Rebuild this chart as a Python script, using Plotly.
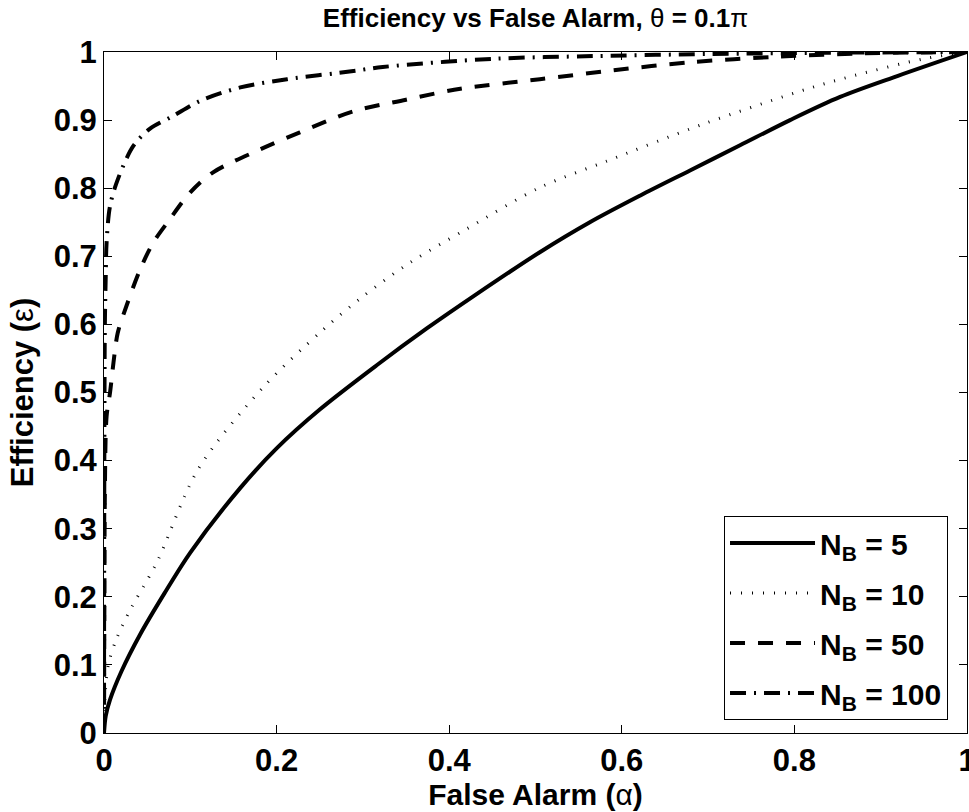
import plotly.graph_objects as go

# N_B = 5 (solid)
x_nb5 = [0, 0.002, 0.007, 0.02, 0.042, 0.07, 0.1, 0.158, 0.2, 0.25, 0.316, 0.374,
         0.43, 0.505, 0.563, 0.621, 0.679, 0.737, 0.795, 0.853, 0.92, 1.0]
y_nb5 = [0, 0.025, 0.049, 0.09, 0.145, 0.205, 0.265, 0.36, 0.418, 0.475, 0.54, 0.594,
         0.643, 0.706, 0.75, 0.789, 0.826, 0.863, 0.9, 0.934, 0.965, 1.0]

# N_B = 10 (dotted)
x_nb10 = [0, 0.001, 0.005, 0.015, 0.03, 0.061, 0.109, 0.184, 0.252, 0.299, 0.355,
          0.42, 0.505, 0.583, 0.694, 0.818, 0.868, 0.95, 1.0]
y_nb10 = [0, 0.05, 0.1, 0.14, 0.18, 0.25, 0.387, 0.507, 0.59, 0.64, 0.691,
          0.74, 0.801, 0.84, 0.894, 0.947, 0.965, 0.99, 1.0]

# N_B = 50 (dashed)
x_nb50 = [0, 0.0005, 0.001, 0.003, 0.007, 0.011, 0.016, 0.026, 0.042, 0.057, 0.076,
          0.1, 0.126, 0.181, 0.227, 0.289, 0.35, 0.413, 0.505, 0.583, 0.679, 0.78,
          0.88, 1.0]
y_nb50 = [0, 0.2, 0.35, 0.465, 0.5, 0.544, 0.588, 0.627, 0.681, 0.72, 0.754,
          0.794, 0.823, 0.857, 0.882, 0.913, 0.93, 0.946, 0.96, 0.972, 0.985, 0.993,
          0.998, 1.0]

# N_B = 100 (dash-dot)
x_nb100 = [0, 0.0002, 0.0005, 0.001, 0.002, 0.003, 0.007, 0.016, 0.034, 0.053, 0.08,
           0.111, 0.158, 0.212, 0.289, 0.323, 0.451, 0.567, 0.7, 0.85, 1.0]
y_nb100 = [0, 0.25, 0.45, 0.6, 0.67, 0.72, 0.774, 0.813, 0.862, 0.887, 0.906,
           0.928, 0.948, 0.96, 0.972, 0.978, 0.99, 0.994, 0.997, 0.999, 1.0]

series_names = ["<b>N<sub>B</sub> = 5</b>", "<b>N<sub>B</sub> = 10</b>",
                "<b>N<sub>B</sub> = 50</b>", "<b>N<sub>B</sub> = 100</b>"]

tick_vals_x = [0, 0.2, 0.4, 0.6, 0.8, 1]
tick_text_x = ["0", "0.2", "0.4", "0.6", "0.8", "1"]
tick_vals_y = [0, 0.1, 0.2, 0.3, 0.4, 0.5, 0.6, 0.7, 0.8, 0.9, 1]
tick_text_y = ["0", "0.1", "0.2", "0.3", "0.4", "0.5", "0.6", "0.7", "0.8", "0.9", "1"]

FONT = "Liberation Sans, Arial, sans-serif"

styles = [
    dict(width=4, dash="solid"),
    dict(width=3, dash="1px,10px"),
    dict(width=4, dash="15px,13px"),
    dict(width=4, dash="16px,8px,2px,8px"),
]

fig = go.Figure()
for i, (xs, ys, name, st) in enumerate(zip([x_nb5, x_nb10, x_nb50, x_nb100],
                                           [y_nb5, y_nb10, y_nb50, y_nb100],
                                           series_names, styles)):
    fig.add_trace(go.Scatter(x=xs, y=ys, mode="lines", name=name, legendgroup=f"g{i}",
                             line=dict(color="black", width=st["width"], dash=st["dash"],
                                       shape="spline", smoothing=0.9)))

axis_common = dict(
    range=[0, 1], showgrid=False, zeroline=False, showline=True, linecolor="black",
    linewidth=1, mirror="ticks", ticks="inside", ticklen=8, tickcolor="black",
    ticklabeloverflow="allow", automargin=False,
    tickfont=dict(family=FONT, size=31, color="black", weight="bold"),
)

fig.update_layout(
    width=969, height=812,
    paper_bgcolor="white", plot_bgcolor="white",
    margin=dict(l=104, r=2, t=52, b=79),
    title=dict(text="<b>Efficiency vs False Alarm, </b>θ<b> = 0.1</b>π",
               x=0.5, xref="paper", xanchor="center", y=0.978, yanchor="middle",
               font=dict(family=FONT, size=26, color="black")),
    xaxis=dict(**axis_common, tickvals=tick_vals_x, ticktext=tick_text_x,
               title=dict(text="<b>False Alarm (</b>α<b>)</b>", standoff=6,
                          font=dict(family=FONT, size=30, color="black"))),
    yaxis=dict(**axis_common, tickvals=tick_vals_y, ticktext=tick_text_y,
               title=dict(text="<b>Efficiency (</b>ε<b>)</b>", standoff=10,
                          font=dict(family=FONT, size=31, color="black"))),
    legend=dict(x=0.978, xanchor="right", y=0.019, yanchor="bottom",
                bgcolor="white", bordercolor="black", borderwidth=1,
                font=dict(family=FONT, size=30, color="black"),
                tracegroupgap=8, itemwidth=85),
    showlegend=True,
)

fig.write_html("out.html")
